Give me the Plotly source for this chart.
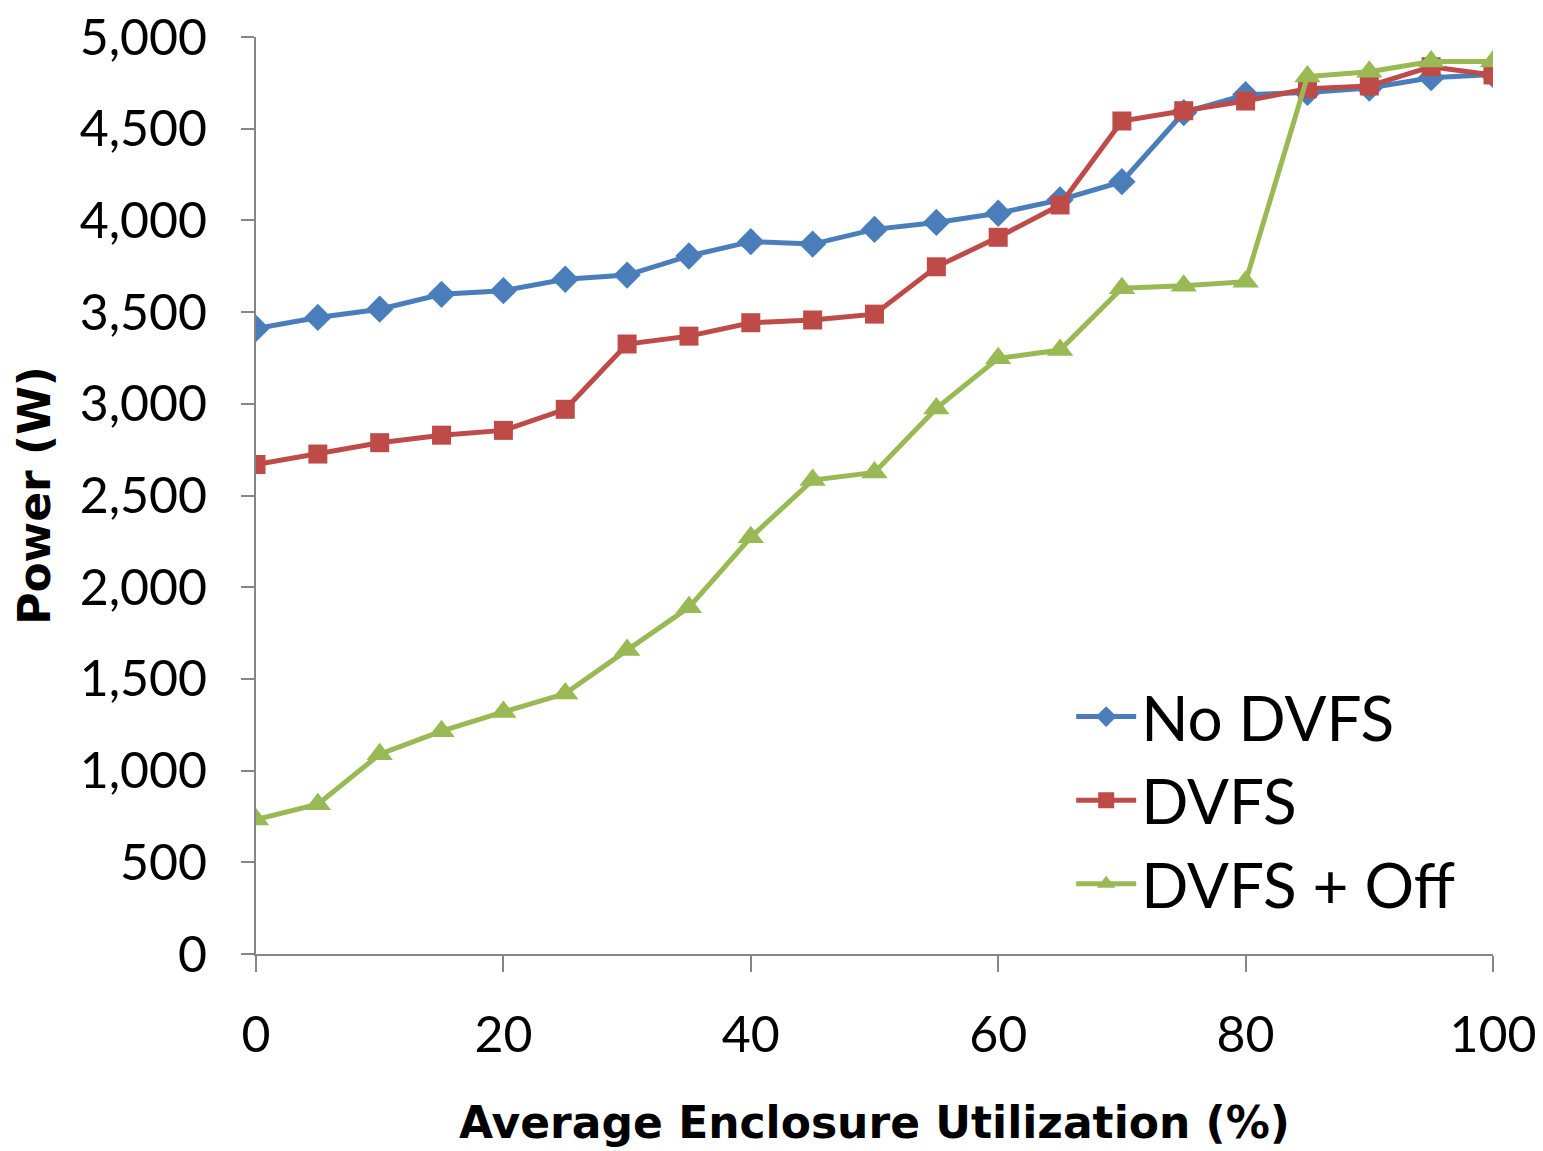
import plotly.graph_objects as go

# Average enclosure utilization (%)
utilization = [0, 5, 10, 15, 20, 25, 30, 35, 40, 45, 50,
               55, 60, 65, 70, 75, 80, 85, 90, 95, 100]

# Power draw (W) for each policy
no_dvfs = [3411, 3471, 3516, 3597, 3617, 3679, 3702, 3806, 3884, 3871, 3951,
           3989, 4039, 4112, 4211, 4588, 4685, 4698, 4722, 4778, 4795]
dvfs = [2669, 2726, 2788, 2829, 2855, 2970, 3326, 3369, 3442, 3457, 3489,
        3747, 3908, 4084, 4542, 4598, 4651, 4718, 4733, 4838, 4793]
dvfs_off = [733, 817, 1089, 1215, 1320, 1420, 1657, 1890, 2272, 2584, 2626,
            2975, 3248, 3293, 3630, 3644, 3666, 4784, 4811, 4866, 4866]

y_ticks = list(range(0, 5001, 500))
y_tick_text = [f"{v:,}" for v in y_ticks]
x_ticks = [0, 20, 40, 60, 80, 100]

series = [
    ("No DVFS", no_dvfs, "#4A7EBB", "diamond", 21),
    ("DVFS", dvfs, "#BE4B48", "square", 19),
    ("DVFS + Off", dvfs_off, "#98B954", "triangle-up", 23),
]

FONT = "Lato"
TITLE_FONT = "DejaVu Sans"
AXIS_GREY = "#868686"

fig = go.Figure()
for name, values, color, symbol, size in series:
    fig.add_trace(go.Scatter(
        x=utilization, y=values, name=name, mode="lines+markers",
        line=dict(color=color, width=5),
        marker=dict(symbol=symbol, size=size, color=color,
                    line=dict(width=0)),
    ))

fig.update_layout(
    width=1543, height=1151,
    margin=dict(l=256, r=50, t=37, b=197, autoexpand=False),
    plot_bgcolor="white", paper_bgcolor="white",
    font=dict(family=FONT, color="black"),
    showlegend=True,
    legend=dict(
        x=0.659, y=0.31, xanchor="left", yanchor="top",
        bgcolor="rgba(0,0,0,0)",
        font=dict(family=FONT, size=62, color="black"),
        itemwidth=60, tracegroupgap=0,
    ),
    xaxis=dict(
        range=[0, 100], tickvals=x_ticks,
        showline=True, linecolor=AXIS_GREY, linewidth=2,
        ticks="outside", ticklen=16, tickwidth=2, tickcolor=AXIS_GREY,
        showgrid=False, zeroline=False, automargin=False,
        tickfont=dict(family=FONT, size=50),
        ticklabelstandoff=20,
        title=dict(text="<b>Average Enclosure Utilization (%)</b>",
                   font=dict(family=TITLE_FONT, size=44), standoff=45),
    ),
    yaxis=dict(
        range=[0, 5000], tickvals=y_ticks, ticktext=y_tick_text,
        showline=True, linecolor=AXIS_GREY, linewidth=2,
        ticks="outside", ticklen=13, tickwidth=2, tickcolor=AXIS_GREY,
        showgrid=False, zeroline=False, automargin=False,
        tickfont=dict(family=FONT, size=50),
        ticklabelstandoff=24,
        title=dict(text="<b>Power (W)</b>",
                   font=dict(family=TITLE_FONT, size=44), standoff=15),
    ),
)

fig.write_html("out.html")
